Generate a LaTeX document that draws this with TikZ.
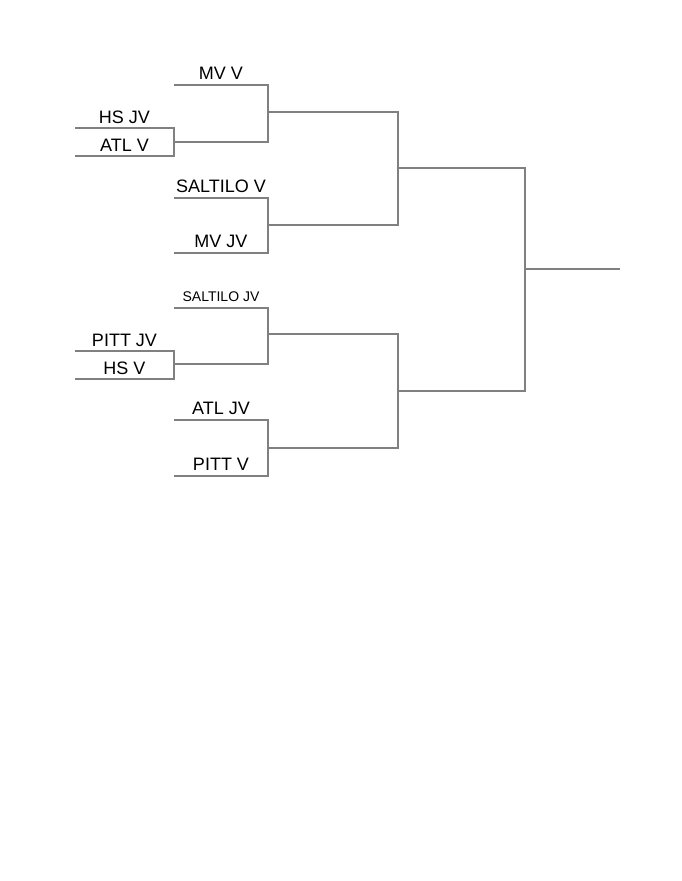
\documentclass[tikz,border=0pt]{standalone}
\usepackage{fontspec}
\setmainfont{Liberation Sans}

\tikzset{
  bline/.style={draw=gray, line width=1.6pt},
  team/.style={anchor=base, inner sep=0pt, font=\fontsize{18}{20}\selectfont},
  smallteam/.style={team, font=\fontsize{14}{16}\selectfont}
}

\begin{document}
\begin{tikzpicture}[x=1pt,y=-1pt]
\useasboundingbox (0,0) rectangle (681,881);

% slot lines, left and right ends
\coordinate (mvv-l) at (174,85);   \coordinate (mvv-r) at (268,85);
\coordinate (hsjv-l) at (75,128);  \coordinate (hsjv-r) at (174,128);
\coordinate (atlv-l) at (75,156);  \coordinate (atlv-r) at (174,156);
\coordinate (saltv-l) at (174,198); \coordinate (saltv-r) at (268,198);
\coordinate (mvjv-l) at (174,253); \coordinate (mvjv-r) at (268,253);
\coordinate (saltjv-l) at (174,308); \coordinate (saltjv-r) at (268,308);
\coordinate (pittjv-l) at (75,351); \coordinate (pittjv-r) at (174,351);
\coordinate (hsv-l) at (75,379);   \coordinate (hsv-r) at (174,379);
\coordinate (atljv-l) at (174,420); \coordinate (atljv-r) at (268,420);
\coordinate (pittv-l) at (174,476); \coordinate (pittv-r) at (268,476);

% winners' lines
\coordinate (p1-l) at (174,142); \coordinate (p1-r) at (268,142);
\coordinate (p2-l) at (174,364); \coordinate (p2-r) at (268,364);
\coordinate (q1-l) at (268,112); \coordinate (q1-r) at (398,112);
\coordinate (q2-l) at (268,225); \coordinate (q2-r) at (398,225);
\coordinate (q3-l) at (268,334); \coordinate (q3-r) at (398,334);
\coordinate (q4-l) at (268,448); \coordinate (q4-r) at (398,448);
\coordinate (s1-l) at (398,168); \coordinate (s1-r) at (525,168);
\coordinate (s2-l) at (398,391); \coordinate (s2-r) at (525,391);
\coordinate (f-l) at (525,269);  \coordinate (f-r) at (620,269);

% first round
\draw[bline] (hsjv-l) -- (hsjv-r) -- (atlv-r) -- (atlv-l);
\draw[bline] (pittjv-l) -- (pittjv-r) -- (hsv-r) -- (hsv-l);

% second round
\draw[bline] (mvv-l) -- (mvv-r) -- (p1-r) -- (p1-l);
\draw[bline] (saltv-l) -- (saltv-r) -- (mvjv-r) -- (mvjv-l);
\draw[bline] (saltjv-l) -- (saltjv-r) -- (p2-r) -- (p2-l);
\draw[bline] (atljv-l) -- (atljv-r) -- (pittv-r) -- (pittv-l);

% semifinals
\draw[bline] (q1-l) -- (q1-r) -- (q2-r) -- (q2-l);
\draw[bline] (q3-l) -- (q3-r) -- (q4-r) -- (q4-l);

% final
\draw[bline] (s1-l) -- (s1-r) -- (s2-r) -- (s2-l);
\draw[bline] (f-l) -- (f-r);

% team names
\node[team] (t-mvv) at (221,79) {MV V};
\node[team] (t-hsjv) at (124.5,123) {HS JV};
\node[team] (t-atlv) at (124.5,151) {ATL V};
\node[team] (t-saltv) at (221,192) {SALTILO V};
\node[team] (t-mvjv) at (221,247) {MV JV};
\node[smallteam] (t-saltjv) at (221,301) {SALTILO JV};
\node[team] (t-pittjv) at (124.5,346) {PITT JV};
\node[team] (t-hsv) at (124.5,374) {HS V};
\node[team] (t-atljv) at (221,414) {ATL JV};
\node[team] (t-pittv) at (221,470) {PITT V};
\end{tikzpicture}
\end{document}
